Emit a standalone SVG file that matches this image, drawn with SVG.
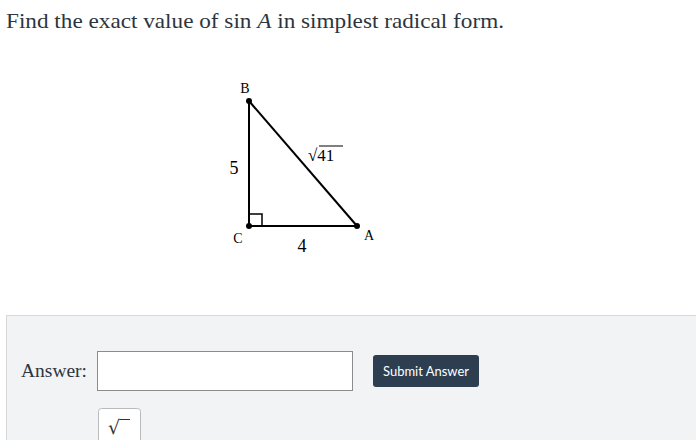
<svg xmlns="http://www.w3.org/2000/svg" width="696" height="440" viewBox="0 0 696 440">
<style>
.serif{font-family:"Liberation Serif","DejaVu Serif",serif;fill:#2d3540}
.lbl{font-family:"Liberation Serif","DejaVu Serif",serif;fill:#000}
.edge{stroke:#000;stroke-width:2;fill:none}
</style>
<rect x="0" y="0" width="696" height="440" fill="#fff"/>
<text class="serif" x="6" y="28" font-size="21" textLength="498" lengthAdjust="spacingAndGlyphs">Find the exact value of sin <tspan font-style="italic">A</tspan> in simplest radical form.</text>
<g id="triangle">
<g id="connectors">
<line class="edge" x1="249" y1="101" x2="249" y2="226"/>
<line class="edge" x1="249" y1="226" x2="357" y2="226"/>
<line class="edge" x1="249" y1="101" x2="357" y2="226"/>
<path d="M249 214 H262 V226" stroke="#000" stroke-width="1.5" fill="none"/>
</g>
<g id="node-B"><circle cx="249" cy="101" r="3" fill="#000"/><text class="lbl" x="245" y="93" font-size="14" text-anchor="middle">B</text></g>
<g id="node-C"><circle cx="249" cy="226" r="3" fill="#000"/><text class="lbl" x="238" y="243" font-size="14" text-anchor="middle">C</text></g>
<g id="node-A"><circle cx="357" cy="226" r="3" fill="#000"/><text class="lbl" x="369" y="240" font-size="14" text-anchor="middle">A</text></g>
<text class="lbl" x="234" y="174" font-size="18" text-anchor="middle">5</text>
<text class="lbl" x="302" y="252" font-size="18" text-anchor="middle">4</text>
<text class="lbl" x="308" y="161" font-size="17">√<tspan>41</tspan></text>
<line x1="319" y1="146" x2="343" y2="146" stroke="#000" stroke-width="1"/>
</g>
<g id="panel">
<rect x="6.5" y="315.5" width="700" height="140" fill="#f2f3f4" stroke="#d6d8da" stroke-width="1"/>
<text class="serif" x="21" y="377" font-size="19" fill="#333" textLength="66" lengthAdjust="spacingAndGlyphs">Answer:</text>
<rect x="97.5" y="351.5" width="255" height="39" fill="#fff" stroke="#8a8d90" stroke-width="1"/>
<rect x="373" y="355" width="106" height="32" rx="3" fill="#2c3e50"/>
<text x="426" y="376" font-size="14" font-family="Lato,'Open Sans',sans-serif" fill="#fff" text-anchor="middle" textLength="86" lengthAdjust="spacingAndGlyphs">Submit Answer</text>
<rect x="98.5" y="408.5" width="42" height="40" rx="3" fill="#fff" stroke="#b8bbbe" stroke-width="1"/>
<text x="108" y="434" font-size="19" font-family="'DejaVu Serif',serif" fill="#333">√</text>
<line x1="120" y1="419.5" x2="130" y2="419.5" stroke="#333" stroke-width="1"/>
</g>
</svg>
